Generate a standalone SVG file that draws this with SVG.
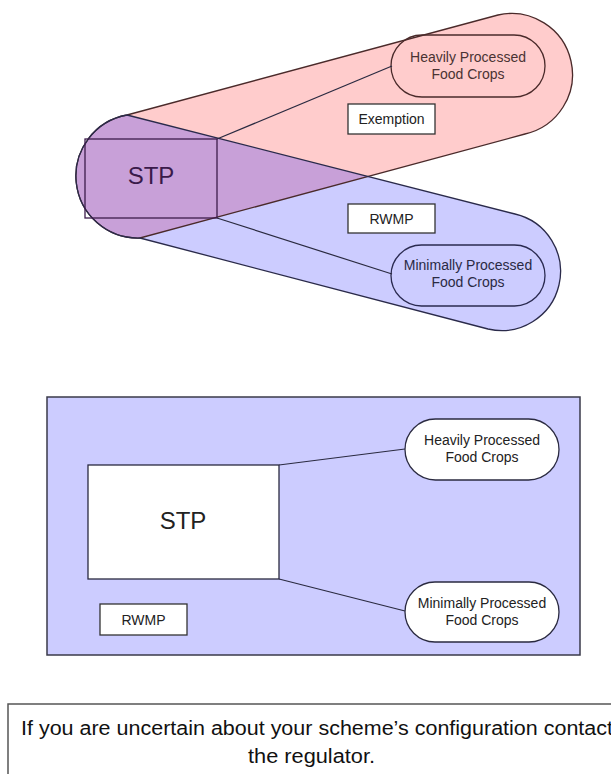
<svg xmlns="http://www.w3.org/2000/svg" width="611" height="774" viewBox="0 0 611 774">
<style>
text{font-family:"Liberation Sans",Arial,sans-serif;text-anchor:middle}
.lbl{font-size:14px}
.stp{font-size:24px}
.pinkl{fill:none;stroke:#4a2a2a;stroke-width:1.3}
.bluel{fill:none;stroke:#2a2a4a;stroke-width:1.3}
.box{fill:#fff;stroke:#333;stroke-width:1.3}
.conn{fill:none;stroke:#2a2a40;stroke-width:1.2}
</style>
<defs>
<path id="pinkShape" d="M127,115 L498,15 A61,61 0 0 1 525,134 L140,238 A62,62 0 0 1 127,115 Z"/>
<path id="blueShape" d="M127,115 L515,214 A59,59 0 0 1 488,329 L140,238 A62,62 0 0 1 127,115 Z"/>
<clipPath id="pinkClip"><use href="#pinkShape"/></clipPath>
</defs>
<rect width="611" height="774" fill="#fff"/>
<g id="exemption-region">
<use href="#pinkShape" fill="#FFCCCC"/>
</g>
<g id="rwmp-region">
<use href="#blueShape" fill="#CCCCFF"/>
</g>
<g id="overlap">
<use href="#blueShape" fill="#C8A0D8" clip-path="url(#pinkClip)"/>
<use href="#pinkShape" class="pinkl"/>
<use href="#blueShape" class="bluel"/>
</g>
<g id="stp-top">
<rect x="85" y="139" width="132" height="79" fill="none" stroke="#3c1c4c" stroke-width="1.3"/>
<text class="stp" x="151" y="184" fill="#3a1a4a">STP</text>
</g>
<g id="heavy-top">
<rect x="391" y="35" width="154" height="62" rx="31" fill="none" stroke="#4a2a2a" stroke-width="1.3"/>
<text class="lbl" x="468" y="62" fill="#4a3333">Heavily Processed</text>
<text class="lbl" x="468" y="79" fill="#4a3333">Food Crops</text>
</g>
<g id="exemption-box">
<rect class="box" x="348" y="104" width="87" height="30"/>
<text class="lbl" x="391.5" y="124" fill="#222">Exemption</text>
</g>
<g id="rwmp-top">
<rect class="box" x="348" y="204" width="87" height="29"/>
<text class="lbl" x="391.5" y="224" fill="#222">RWMP</text>
</g>
<g id="minimal-top">
<rect x="391" y="245" width="154" height="61" rx="30.5" fill="none" stroke="#2a2a50" stroke-width="1.3"/>
<text class="lbl" x="468" y="270" fill="#2a2a44">Minimally Processed</text>
<text class="lbl" x="468" y="287" fill="#2a2a44">Food Crops</text>
</g>
<g id="bottom-panel">
<rect x="47" y="397" width="533" height="258" fill="#CCCCFF" stroke="#3a3a4a" stroke-width="1.5"/>
</g>
<g id="connectors">
<line class="conn" x1="217" y1="139" x2="392" y2="66"/>
<line class="conn" x1="217" y1="218" x2="392" y2="274"/>
<line class="conn" x1="279" y1="465" x2="405" y2="449"/>
<line class="conn" x1="279" y1="579" x2="405" y2="611"/>
</g>
<g id="stp-bottom">
<rect x="88" y="465" width="191" height="114" fill="#fff" stroke="#2a2a40" stroke-width="1.3"/>
<text class="stp" x="183" y="529" fill="#222">STP</text>
</g>
<g id="rwmp-bottom">
<rect class="box" x="100" y="604" width="87" height="31"/>
<text class="lbl" x="143.5" y="625" fill="#222">RWMP</text>
</g>
<g id="heavy-bottom">
<rect x="405" y="419" width="154" height="61" rx="30.5" fill="#fff" stroke="#2a2a40" stroke-width="1.3"/>
<text class="lbl" x="482" y="445" fill="#222">Heavily Processed</text>
<text class="lbl" x="482" y="462" fill="#222">Food Crops</text>
</g>
<g id="minimal-bottom">
<rect x="405" y="582" width="154" height="60" rx="30" fill="#fff" stroke="#2a2a40" stroke-width="1.3"/>
<text class="lbl" x="482" y="608" fill="#222">Minimally Processed</text>
<text class="lbl" x="482" y="625" fill="#222">Food Crops</text>
</g>
<g id="note">
<rect x="8" y="704" width="620" height="100" fill="#fff" stroke="#555" stroke-width="1.5"/>
<text x="21" y="735" style="font-size:20px;text-anchor:start" textLength="592" lengthAdjust="spacingAndGlyphs" fill="#111">If you are uncertain about your scheme’s configuration contact</text>
<text x="248" y="763" style="font-size:20px;text-anchor:start" textLength="127" lengthAdjust="spacingAndGlyphs" fill="#111">the regulator.</text>
</g>
</svg>
